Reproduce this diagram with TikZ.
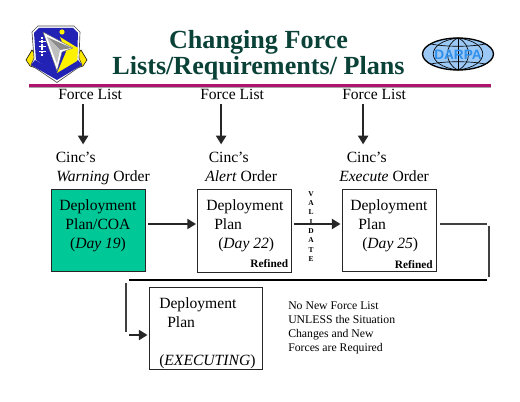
\documentclass[tikz,border=0pt]{standalone}
\usepackage{xcolor}
\usepackage{fontspec}
\setmainfont{Liberation Serif}
\newfontfamily\logofont{Liberation Sans}
\usepackage{tikz}
\usetikzlibrary{
  arrows.meta,
  positioning,
  calc
}
\definecolor{titlegreen}{HTML}{0B4238}
\definecolor{rulepink}{HTML}{B0136E}
\definecolor{coagreen}{HTML}{00C896}
\definecolor{shieldblue}{HTML}{2222B4}
\definecolor{globeblue}{HTML}{9CC8F5}
\definecolor{darpablue}{HTML}{2F8FEA}

\begin{document}
\begin{tikzpicture}[
      x=0.75pt, y=-0.75pt,
      seta/.style={-{Triangle[length=6.5pt,width=7.5pt]}, line width=1.5pt, black!85},
      trecho/.style={line width=2pt, black!75},
      plano/.style={draw=black!85, line width=0.7pt, fill=white, inner sep=0pt, minimum width=70.5pt, minimum height=62pt},
      texto/.style={font=\fontsize{11.7}{14.3}\selectfont, inner sep=0pt, align=left},
      refinado/.style={font=\fontsize{8.5}{10}\selectfont\bfseries, inner sep=0pt, anchor=south east},
      titulo/.style={font=\fontsize{19.6}{19.5}\selectfont\bfseries, text=titlegreen, align=center, inner sep=0pt}
  ]
      \useasboundingbox (0,0) rectangle (520,402);

      % Titulo e regua
      \node[titulo] (title) at (258.5,55.5) {Changing Force\\Lists/Requirements/ Plans};
      \fill[black!35] (29,87) rectangle (491,88.5);
      \fill[rulepink] (29,84.5) rectangle (491,87);

      % Brasao
      \fill[yellow!90!orange, draw=black, line width=0.4pt] (26,60) -- (32,50) -- (36,56) -- (36,68) -- (30,66) -- cycle;
      \fill[yellow!90!orange, draw=black, line width=0.4pt] (87,60) -- (81,50) -- (77,56) -- (77,68) -- (83,66) -- cycle;
      \fill[white, draw=black!70, line width=0.5pt] (32,32) -- (38,26) -- (74,26) -- (80,32) -- (79,58) -- (82,65) -- (57,82.5) -- (31,65) -- (34,58) -- cycle;
      \fill[shieldblue] (34,33) -- (39,28) -- (73,28) -- (78,33) -- (77,60) -- (57,74) -- (36,60) -- cycle;
      \fill[shieldblue] (31,65) -- (35,60) -- (57,72) -- (78,60) -- (82,65) -- (57,80) -- cycle;
      \fill[yellow] (60,37) -- (78,48) -- (77,61) -- (57,73) -- (66,52) -- cycle;
      \fill[white, draw=black!60, line width=0.3pt] (43,32) -- (73,48) -- (62,52) -- (57,71) -- cycle;
      \fill[black!45] (47,37) -- (72,48) -- (60,50) -- cycle;
      \fill[black!25] (47,37) -- (60,50) -- (57,64) -- cycle;
      \fill[yellow] (62,32) circle (2.6);
      \draw[white, line width=1.6pt, dash pattern=on 1.6pt off 1pt] (42,37) -- (42,56);
      \draw[white, line width=0.7pt] (38.5,41) -- (45.5,41) (38.5,46) -- (45.5,46) (38.5,51) -- (45.5,51);

      % Globo
      \fill[globeblue] (458,54) ellipse (35.5 and 16);
      \draw[black, line width=0.5pt] (458,38) -- (458,70);
      \draw[black, line width=0.5pt] (458,38) .. controls (444,44) and (444,64) .. (458,70);
      \draw[black, line width=0.5pt] (458,38) .. controls (472,44) and (472,64) .. (458,70);
      \draw[black, line width=0.5pt] (458,38) .. controls (425,42) and (425,66) .. (458,70);
      \draw[black, line width=0.5pt] (458,38) .. controls (491,42) and (491,66) .. (458,70);
      \draw[black, line width=0.5pt] (431,44) .. controls (445,47) and (471,47) .. (485,44);
      \draw[black, line width=0.5pt] (431,64) .. controls (445,61) and (471,61) .. (485,64);
      \draw[black, line width=1pt] (458,54) ellipse (35.5 and 16);
      \node[font=\logofont\fontsize{10.2}{10}\selectfont\bfseries, text=darpablue, inner sep=0pt] (darpa) at (458,54.5) {DARPA};

      % Force list e ordens
      \node[texto, anchor=base west] (forcea) at (58,100) {Force List};
      \node[texto, anchor=base west] (forceb) at (200,100) {Force List};
      \node[texto, anchor=base west] (forcec) at (342,100) {Force List};
      \node[texto, anchor=base west] (cinca) at (55.5,163) {Cinc’s};
      \node[texto, anchor=base west] (cincb) at (208.5,163) {Cinc’s};
      \node[texto, anchor=base west] (cincc) at (346.5,163) {Cinc’s};
      \node[texto, anchor=base west] (ordera) at (56,182) {\textit{Warning} Order};
      \node[texto, anchor=base west] (orderb) at (205,182) {\textit{Alert} Order};
      \node[texto, anchor=base west] (orderc) at (339,182) {\textit{Execute} Order};

      % Caixas
      \node[plano, fill=coagreen] (warn) at (98,230.5) {};
      \node[plano] (alert) at (244.5,231) {};
      \node[plano] (exec) at (389,230.5) {};
      \node[plano, minimum width=84.75pt] (final) at (205.5,328.5) {};

      \node[texto, align=center, anchor=north] (warntext) at (98,199.5) {Deployment\\Plan/COA\\(\textit{Day 19})};
      \node[texto, anchor=north west] (alerttext) at (206,199.5) {Deployment\\\hspace{6pt}Plan\\\hspace{9pt}(\textit{Day 22})};
      \node[texto, anchor=north west] (exectext) at (350,199.5) {Deployment\\\hspace{6pt}Plan\\\hspace{9pt}(\textit{Day 25})};
      \node[texto, anchor=north west] (finaltext) at (159,297) {Deployment\\\hspace{6pt}Plan\\[14.3pt](\textit{EXECUTING})};
      \node[refinado] (refineda) at (288.5,268) {Refined};
      \node[refinado] (refinedb) at (433,268.5) {Refined};

      \node[font=\fontsize{5.6}{7}\selectfont\bfseries, align=center, inner sep=0pt] (validate) at (311,226.5) {V\\A\\L\\I\\D\\A\\T\\E};

      \node[font=\fontsize{8.8}{10.5}\selectfont, align=left, inner sep=0pt, anchor=north west] (note) at (288,301) {No New Force List\\UNLESS the Situation\\Changes and New\\Forces are Required};

      % Setas de cima
      \coordinate (quedaa) at ($(forcea.south)+(-7,4)$);
      \coordinate (quedab) at ($(forceb.south)+(-11,4)$);
      \coordinate (quedac) at ($(forcec.south)+(-11,4)$);
      \draw[seta, shorten >=6pt] (quedaa) -- (quedaa |- cinca.north);
      \draw[seta, shorten >=6pt] (quedab) -- (quedab |- cincb.north);
      \draw[seta, shorten >=6pt] (quedac) -- (quedac |- cincc.north);

      % Setas entre caixas
      \draw[seta] ($(warn.east)+(3,-6.5)$) -- ($(alert.west)+(-1,-7)$);
      \draw[seta] ($(alert.east)+(2,-7)$) -- ($(exec.west)+(-1,-6.5)$);

      % Retorno em trechos
      \coordinate (dobraa) at (487,224);
      \coordinate (dobrab) at (489,226);
      \coordinate (dobrac) at (489,277);
      \coordinate (dobrad) at (487,280);
      \coordinate (dobrae) at (129,280);
      \coordinate (dobraf) at (126,283);
      \coordinate (dobrag) at (126,332);
      \coordinate (dobrah) at (129,335);
      \draw[trecho] ($(exec.east)+(4,-6.5)$) -- (dobraa);
      \draw[trecho] (dobrab) -- (dobrac);
      \draw[trecho, black] (dobrad) -- (dobrae);
      \draw[trecho] (dobraf) -- (dobrag);
      \draw[seta] (dobrah) -- ($(final.west)+(-1,6.5)$);
  \end{tikzpicture}
\end{document}
